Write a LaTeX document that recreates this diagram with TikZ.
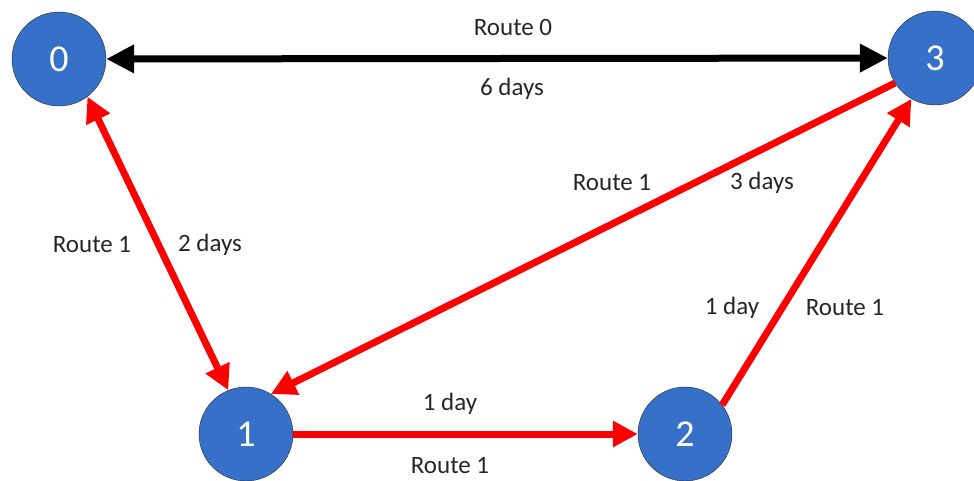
\documentclass[tikz,border=0pt]{standalone}
\usepackage{fontspec}
\setmainfont{Carlito}
\usetikzlibrary{arrows.meta}
\definecolor{stopblue}{RGB}{54,112,200}
\definecolor{routered}{RGB}{255,0,0}

\begin{document}
\begin{tikzpicture}[x=1pt,y=-1pt,
  stop/.style={circle,draw=black!85,thin,fill=stopblue,minimum size=94pt,
    inner sep=0pt,text=white,font=\fontsize{38}{38}\selectfont},
  lbl/.style={text=black!85,font=\fontsize{25}{27}\selectfont},
  tip/.style={-{Triangle[length=25pt,width=25pt]}},
  route/.style={line width=7pt,routered,tip}
]
\useasboundingbox (0,0) rectangle (974,480);

\node[stop] (Stop0) at (59,59) {0};
\node[stop] (Stop3) at (935,58) {3};
\node[stop] (Stop1) at (246,434) {1};
\node[stop] (Stop2) at (685,434) {2};

% route 0
\draw[line width=7pt,black,{Triangle[length=28pt,width=27pt]}-{Triangle[length=28pt,width=27pt]}]
  (Stop0) -- (Stop3);
\node[lbl] (RouteZero) at (513,27) {Route 0};
\node[lbl] (DaysZero) at (512,89) {6 days};

% route 1
\draw[route,{Triangle[length=25pt,width=25pt]}-{Triangle[length=25pt,width=25pt]}]
  (Stop0.-53) -- (Stop1.112);
\draw[route] (Stop3.212) -- (Stop1.58);
\draw[route] (Stop1.east) -- (Stop2.west);
\draw[route] (Stop2.38) -- (Stop3.240);

\node[lbl] (RouteA) at (92,245) {Route 1};
\node[lbl] (DaysA) at (210,245) {2 days};
\node[lbl] (RouteB) at (612,183) {Route 1};
\node[lbl] (DaysB) at (762,183) {3 days};
\node[lbl] (DaysC) at (732,308) {1 day};
\node[lbl] (RouteC) at (845,308) {Route 1};
\node[lbl] (DaysD) at (450,404) {1 day};
\node[lbl] (RouteD) at (450,466) {Route 1};
\end{tikzpicture}
\end{document}
